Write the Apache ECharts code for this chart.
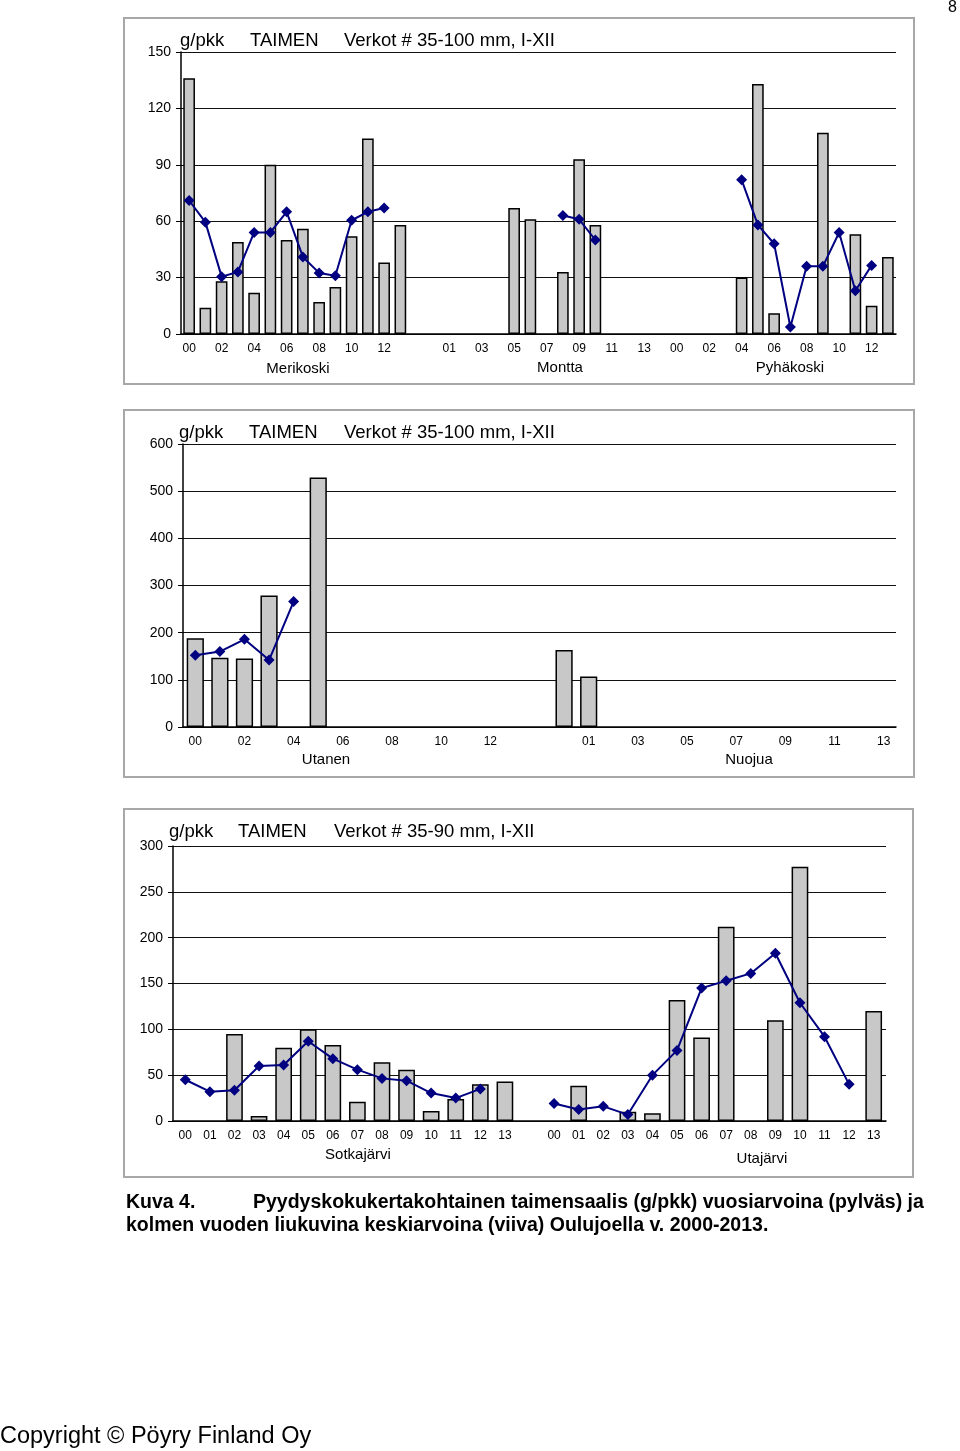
<!DOCTYPE html>
<html>
<head>
<meta charset="utf-8">
<script src="https://cdn.jsdelivr.net/npm/echarts@6/dist/echarts.min.js"></script>
<style>
html,body{margin:0;padding:0;background:#fff;}
#c{width:960px;height:1451px;}
</style>
</head>
<body>
<div id="c"></div>
<script>
// ---- Data ----
const years = ['00','01','02','03','04','05','06','07','08','09','10','11','12','13'];

// Panel 1 (35-100 mm)
const merikoskiBars = [136,14,28,49,22,90,50,56,17,25,52,104,38,58];
const merikoskiAvg  = [71,59.5,30.5,33,54,54,65,41,32.5,31,60.5,65,67,null];
const monttaBars    = [null,null,null,null,null,67,61,null,33,93,58,null,null,null];
const monttaAvg     = [null,null,null,null,null,null,null,null,63,61,50,null,null,null];
const pyhakoskiBars = [null,null,null,null,30,133,11,null,null,107,null,53,15,41];
const pyhakoskiAvg  = [null,null,null,null,82,58,48,3.7,36,36,54,23,36.5,null];

// Panel 2 (35-100 mm)
const utanenBars = [188,147,145,279,null,529,null,null,null,null,null,null,null,null];
const utanenAvg  = [152,160,186,142,266,null,null,null,null,null,null,null,null,null];
const nuojuaBars = [163,107,null,null,null,null,null,null,null,null,null,null,null,null];
const nuojuaAvg  = [null,null,null,null,null,null,null,null,null,null,null,null,null,null];

// Panel 3 (35-90 mm)
const sotkaBars = [null,null,95,5.5,80,100,83,21,64,56,11,24,40,43];
const sotkaAvg  = [45,32,33.5,60,61,87,68,56,46.5,44,30.5,25,35,null];
const utaBars   = [null,38.5,null,10,8.5,132,91,212,null,110,277.5,null,null,120];
const utaAvg    = [19,12.5,16,7,50,77,145,153,161,183,129,92,40,null];

// ---- Helpers ----
function join(groups){ // insert one empty category between groups
  let out = [];
  groups.forEach((g,i)=>{ if(i>0) out.push(null); out = out.concat(g); });
  return out;
}
function cats(n){
  let out = [];
  for(let i=0;i<n;i++){ if(i>0) out.push(''); out = out.concat(years); }
  return out;
}

const FONT = '"Liberation Sans", Arial, sans-serif';
const barStyle = {color:'#c8c8c8', borderColor:'#000', borderWidth:1.5};
const lineColor = '#000080';

function xAxis(gi, n, interval){
  return {type:'category', gridIndex:gi, data:cats(n), boundaryGap:true,
    axisLine:{lineStyle:{color:'#000', width:1.5}}, axisTick:{show:false},
    axisLabel:{interval:interval, color:'#000', fontSize:12, fontFamily:FONT, margin:9}};
}
function yAxis(gi, max, interval){
  return {type:'value', gridIndex:gi, min:0, max:max, interval:interval,
    axisLine:{show:true, lineStyle:{color:'#000', width:1.5}},
    axisTick:{show:true, length:5, lineStyle:{color:'#000'}},
    splitLine:{lineStyle:{color:'#111', width:1.2}},
    axisLabel:{color:'#000', fontSize:14, fontFamily:FONT, margin:10}};
}
function bar(gi, data, bw){
  return {type:'bar', xAxisIndex:gi, yAxisIndex:gi, data:data, barWidth:bw, itemStyle:barStyle, z:2, silent:true};
}
function line(gi, data){
  return {type:'line', xAxisIndex:gi, yAxisIndex:gi, data:data, symbol:'diamond', symbolSize:11,
    showAllSymbol:true, connectNulls:false, itemStyle:{color:lineColor}, lineStyle:{color:lineColor, width:2}, z:5, silent:true};
}
function txt(x,y,s,size,opts){
  return {type:'text', x:x, y:y, style:{text:s, fill:'#000',
    font:(opts&&opts.bold?'bold ':'')+size+'px '+FONT, textVerticalAlign:'middle',
    textAlign:(opts&&opts.align)||'left'}};
}
function frame(x,y,w,h){
  return {type:'rect', shape:{x:x,y:y,width:w,height:h}, style:{fill:null, stroke:'#a8a8a8', lineWidth:2}, z:-1};
}

const chart = echarts.init(document.getElementById('c'), null, {renderer:'canvas'});
chart.setOption({
  backgroundColor:'#fff',
  animation:false,
  grid:[
    {left:181, top:52, width:715, height:282},
    {left:183, top:444, width:713, height:283},
    {left:173, top:846, width:713, height:275}
  ],
  xAxis:[xAxis(0,3,1), xAxis(1,2,1), xAxis(2,2,0)],
  yAxis:[yAxis(0,150,30), yAxis(1,600,100), yAxis(2,300,50)],
  series:[
    bar(0, join([merikoskiBars, monttaBars, pyhakoskiBars]), '72%'),
    line(0, join([merikoskiAvg, monttaAvg, pyhakoskiAvg])),
    bar(1, join([utanenBars, nuojuaBars]), '70%'),
    line(1, join([utanenAvg, nuojuaAvg])),
    bar(2, join([sotkaBars, utaBars]), '68%'),
    line(2, join([sotkaAvg, utaAvg]))
  ],
  graphic:[
    frame(124,18,790,366),
    frame(124,410,790,367),
    frame(124,809,789,368),
    // panel 1 titles
    txt(180,41,'g/pkk',18.5), txt(250,41,'TAIMEN',18.5), txt(344,41,'Verkot # 35-100 mm, I-XII',18.5),
    txt(298,369,'Merikoski',15,{align:'center'}),
    txt(560,368,'Montta',15,{align:'center'}),
    txt(790,368,'Pyhäkoski',15,{align:'center'}),
    // panel 2 titles
    txt(179,433,'g/pkk',18.5), txt(249,433,'TAIMEN',18.5), txt(344,433,'Verkot # 35-100 mm, I-XII',18.5),
    txt(326,760,'Utanen',15,{align:'center'}),
    txt(749,760,'Nuojua',15,{align:'center'}),
    // panel 3 titles
    txt(169,832,'g/pkk',18.5), txt(238,832,'TAIMEN',18.5), txt(334,832,'Verkot # 35-90 mm, I-XII',18.5),
    txt(358,1155,'Sotkajärvi',15,{align:'center'}),
    txt(762,1159,'Utajärvi',15,{align:'center'}),
    // caption
    txt(126,1203,'Kuva 4.',19.5,{bold:true}),
    txt(253,1203,'Pyydyskokukertakohtainen taimensaalis (g/pkk) vuosiarvoina (pylväs) ja',19.5,{bold:true}),
    txt(126,1226,'kolmen vuoden liukuvina keskiarvoina (viiva) Oulujoella v. 2000-2013.',19.5,{bold:true}),
    // page number & footer
    txt(957,8,'8',16,{align:'right'}),
    txt(0,1437,'Copyright © Pöyry Finland Oy',23.5)
  ]
});
</script>
</body>
</html>
